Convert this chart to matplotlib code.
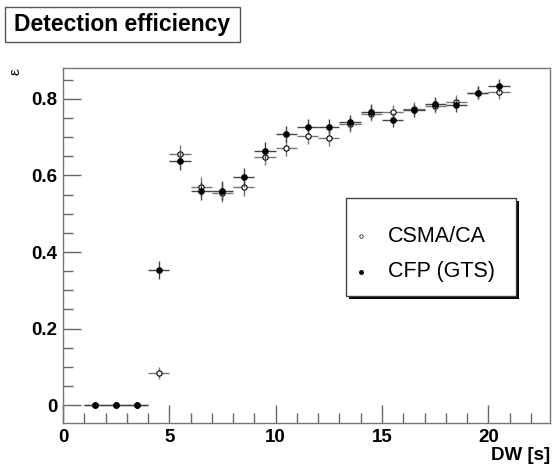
import numpy as np
import matplotlib
matplotlib.use("Agg")
import matplotlib.pyplot as plt
from matplotlib.patches import Rectangle
from matplotlib.ticker import MultipleLocator

plt.rcParams['font.family'] = ['Liberation Sans', 'DejaVu Sans']

# bin centres of DW [s]
dw = [1.5, 2.5, 3.5, 4.5, 5.5, 6.5, 7.5, 8.5, 9.5, 10.5,
      11.5, 12.5, 13.5, 14.5, 15.5, 16.5, 17.5, 18.5, 19.5, 20.5]
dw_err = [0.5] * 20

csma = [0, 0, 0, 0.083, 0.655, 0.571, 0.555, 0.571, 0.649, 0.673,
        0.703, 0.698, 0.734, 0.762, 0.767, 0.775, 0.782, 0.793, 0.816, 0.818]
csma_err = [0, 0, 0, 0.016, 0.024, 0.024, 0.025, 0.024, 0.022, 0.021,
            0.02, 0.02, 0.019, 0.019, 0.018, 0.018, 0.018, 0.017, 0.017, 0.017]

cfp = [0, 0, 0, 0.353, 0.638, 0.560, 0.560, 0.595, 0.665, 0.708,
       0.728, 0.728, 0.739, 0.767, 0.745, 0.770, 0.787, 0.784, 0.816, 0.834]
cfp_err = [0, 0, 0, 0.024, 0.024, 0.024, 0.025, 0.024, 0.022, 0.021,
           0.02, 0.02, 0.019, 0.019, 0.018, 0.018, 0.018, 0.017, 0.017, 0.017]

W, H = 553, 468
fig = plt.figure(figsize=(W / 100, H / 100), dpi=100)
ax = fig.add_axes([63 / W, 1 - 423 / H, (550 - 63) / W, (423 - 68) / H])

ax.errorbar(dw, csma, xerr=dw_err, yerr=csma_err, fmt='o', ms=3.8,
            mfc='white', mec='black', mew=0.8, ecolor='#777777',
            elinewidth=1.0, capsize=0, zorder=3)
ax.errorbar(dw, cfp, xerr=dw_err, yerr=cfp_err, fmt='o', ms=3.8,
            mfc='black', mec='black', ecolor='#444444',
            elinewidth=1.0, capsize=0, zorder=4)

ax.set_xlim(0, 22.9)
ax.set_ylim(-0.047, 0.881)
ax.xaxis.set_major_locator(MultipleLocator(5))
ax.xaxis.set_minor_locator(MultipleLocator(1))
ax.yaxis.set_major_locator(MultipleLocator(0.2))
ax.yaxis.set_minor_locator(MultipleLocator(0.05))
ax.yaxis.set_major_formatter(plt.FuncFormatter(lambda v, p: '0' if abs(v) < 1e-9 else '%g' % v))
ax.tick_params(which='both', direction='in', color='#666666', top=False, right=False)
ax.tick_params(which='major', length=13, width=1, labelsize=13.5, pad=4)
ax.tick_params(which='minor', length=7, width=1)
for lab in ax.get_xticklabels() + ax.get_yticklabels():
    lab.set_fontweight('bold')
for s in ax.spines.values():
    s.set_color('#777777')
    s.set_linewidth(1.0)

fig.text(550 / W, 1 - 455 / H, 'DW [s]', ha='right', va='center',
         fontsize=13.5, fontweight='bold')
fig.text(16 / W, 1 - 72 / H, '\u03b5', ha='center', va='center',
         fontsize=11, rotation=90)

# title box
fig.patches.append(Rectangle((5 / W, 1 - 42 / H), 235 / W, 35 / H,
                             transform=fig.transFigure, facecolor='white',
                             edgecolor='#555555', lw=1.0))
fig.text(122 / W, 1 - 25 / H, 'Detection efficiency', ha='center',
         va='center', fontsize=16.5, fontweight='bold')

# legend box with shadow
lx0, ly0, lx1, ly1 = 346, 198, 516, 296
fig.patches.append(Rectangle(((lx0 + 3) / W, 1 - (ly1 + 3) / H),
                             (lx1 - lx0) / W, (ly1 - ly0) / H,
                             transform=fig.transFigure, facecolor='black',
                             edgecolor='black', lw=0))
fig.patches.append(Rectangle((lx0 / W, 1 - ly1 / H), (lx1 - lx0) / W,
                             (ly1 - ly0) / H, transform=fig.transFigure,
                             facecolor='white', edgecolor='#444444', lw=1.0))
fig.lines.append(plt.Line2D([361 / W], [1 - 236 / H], transform=fig.transFigure,
                            marker='o', ms=2.5, mfc='white', mec='black', mew=0.5))
fig.lines.append(plt.Line2D([361 / W], [1 - 272 / H], transform=fig.transFigure,
                            marker='o', ms=2.5, mfc='black', mec='black'))
fig.text(388 / W, 1 - 236 / H, 'CSMA/CA', ha='left', va='center', fontsize=15.5)
fig.text(388 / W, 1 - 272 / H, 'CFP (GTS)', ha='left', va='center', fontsize=15.5)

fig.savefig('out.png', dpi=100)
